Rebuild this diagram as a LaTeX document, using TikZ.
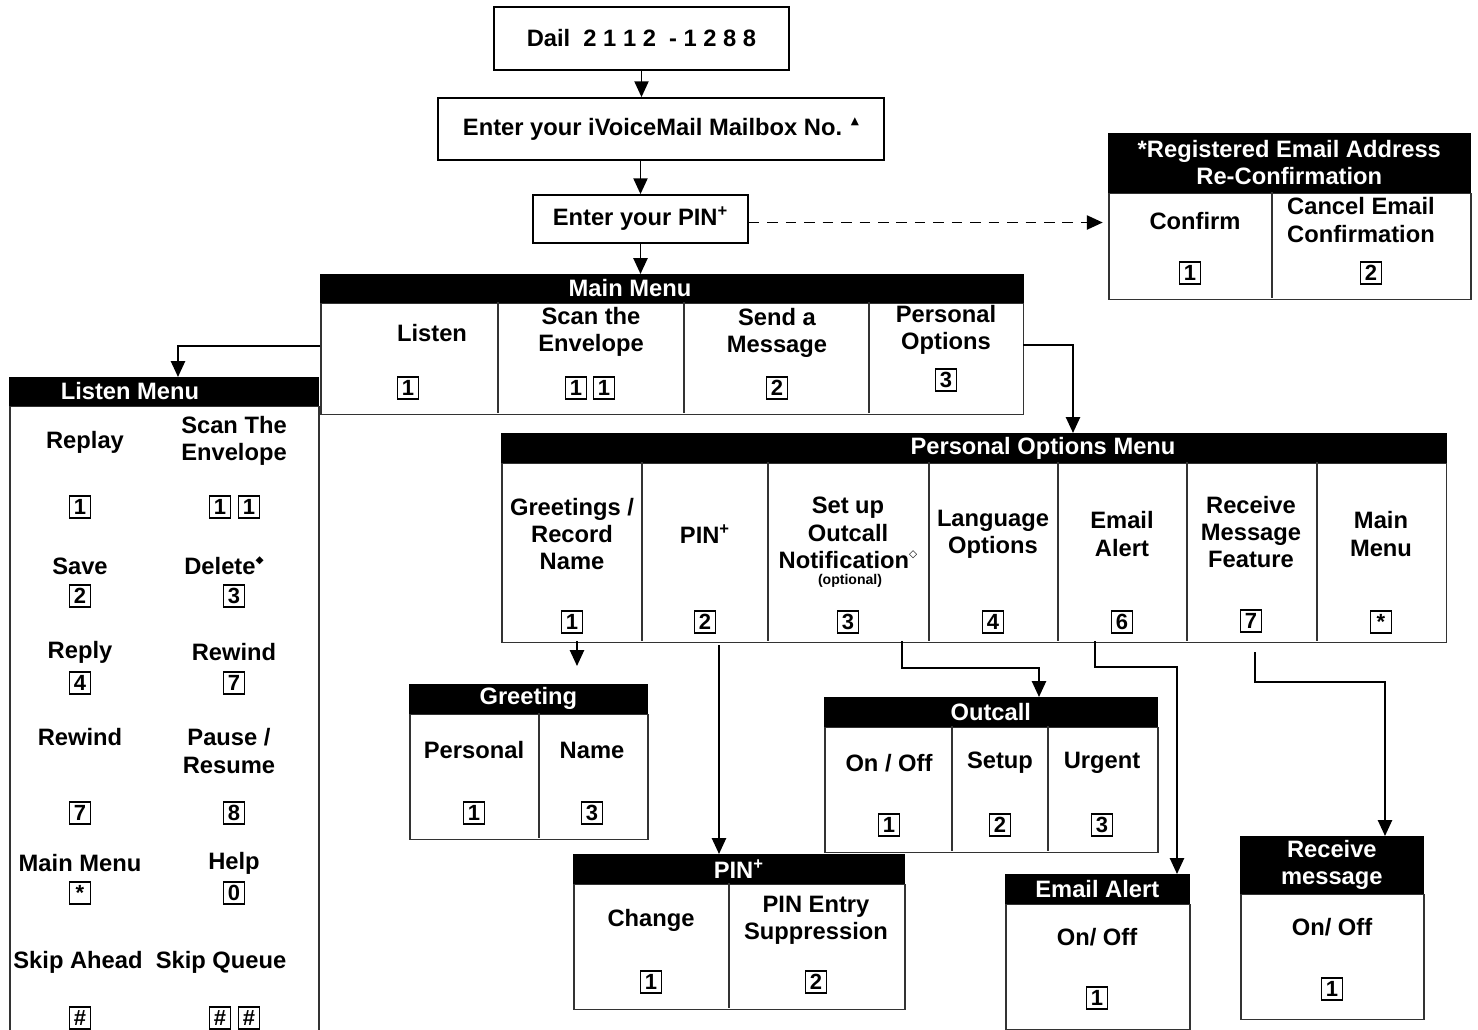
\documentclass[tikz,border=0pt]{standalone}
\usepackage{fontspec}
\setmainfont{Liberation Sans}
\newfontfamily\glyphfont{DejaVu Sans}
\usetikzlibrary{arrows.meta,positioning}

\newcommand{\itemfont}{\fontsize{13.5}{15.5}\selectfont\bfseries}
\newcommand{\keyfont}{\fontsize{12.5}{12.5}\selectfont\bfseries}
\newcommand{\fillmark}{\raisebox{0.9ex}{\glyphfont\fontsize{6}{6}\selectfont ◆}}
\newcommand{\openmark}{\raisebox{0.9ex}{\glyphfont\fontsize{6}{6}\selectfont ◇}}
\newcommand{\upmark}{\raisebox{0.9ex}{\glyphfont\fontsize{6}{6}\selectfont ▲}}

\tikzset{%
    stepbox/.style={%
        rectangle, draw=black, line width=1pt, font=\itemfont, inner sep=0pt
    },
    menuhead/.style={%
        rectangle, draw=black, fill=black, text=white, font=\itemfont, anchor=north west, inner sep=0pt, align=center
    },
    headtext/.style={%
        text=white, font=\itemfont, inner sep=0pt
    },
    menubody/.style={%
        rectangle, draw=black!80, line width=0.9pt, anchor=north west, inner sep=0pt
    },
    item/.style={%
        align=center, font=\itemfont, inner sep=0pt
    },
    keybox/.style={%
        rectangle, draw=black, line width=0.8pt, minimum width=0.42cm, minimum height=0.44cm, inner sep=0pt, font=\keyfont
    },
    divider/.style={%
        draw=black!80, line width=0.9pt
    },
    flow/.style={%
        -{Triangle[width=8pt,length=9pt]}, line width=1.1pt
    },
}

\begin{document}
\begin{tikzpicture}[x=0.02cm, y=-0.02cm]
  \useasboundingbox (0,0) rectangle (1478,1030);

  % log in steps
  \node[stepbox, minimum width=5.9cm, minimum height=1.26cm] (dial) at (641.5,38.5) {Dail\ \ 2 1 1 2\ \ - 1 2 8 8};
  \node[stepbox, minimum width=8.92cm, minimum height=1.24cm] (mailbox) at (661,129) {Enter your iVoiceMail Mailbox No. \upmark};
  \node[stepbox, minimum width=4.3cm, minimum height=0.96cm] (pin) at (640.5,219) {Enter your PIN\textsuperscript{+}};

  % main menu
  \node[menuhead, minimum width=14.06cm, minimum height=0.56cm] (mmhead) at (320,274) {};
  \node[headtext] (mmtitle) at (630,288) {Main Menu};
  \node[menubody, minimum width=14.06cm, minimum height=2.22cm] (mmbody) at (mmhead.south west) {};
  \foreach \x in {498,684,869}
    \draw[divider] (\x,302) -- (\x,413);
  \foreach \ix/\iy/\itxt [count=\i] in {432/333/{Listen}, 591/332/{Scan the\\Envelope}, 777/333/{Send a\\Message}, 946/330/{Personal\\Options}}
    \node[item] (mmitem\i) at (\ix,\iy) {\itxt};
  \foreach \kx/\ky/\kl [count=\i] in {408/388/1, 576/388/1, 604/388/1, 777/388/2, 946/380/3}
    \node[keybox] (mmkey\i) at (\kx,\ky) {\kl};

  % e-mail re-confirmation
  \node[menuhead, minimum width=7.24cm, minimum height=1.18cm] (rchead) at (1108,133) {*Registered Email Address\\Re-Confirmation};
  \node[menubody, minimum width=7.24cm, minimum height=2.12cm] (rcbody) at (rchead.south west) {};
  \draw[divider] (1272,192) -- (1272,298);
  \node[item] (rcitem1) at (1195,221) {Confirm};
  \node[item] (rcitem2) at (1361,220) {Cancel Email\\Confirmation};
  \node[keybox] (rckey1) at (1190,273) {1};
  \node[keybox] (rckey2) at (1371,273) {2};

  % listen menu
  \node[menuhead, minimum width=6.18cm, minimum height=0.56cm] (lmhead) at (9,377) {};
  \node[headtext] (lmtitle) at (130,391) {Listen Menu};
  \node[menubody, minimum width=6.18cm, minimum height=12.7cm] (lmbody) at (lmhead.south west) {};
  \foreach \ix/\iy/\itxt [count=\i] in {85/442/{Replay}, 234/441/{Scan The\\Envelope}, 80/566/{Save}, 224/566/{Delete\fillmark},
      80/652/{Reply}, 234/652/{Rewind}, 80/737/{Rewind}, 229/751/{Pause /\\Resume},
      80/863/{Main Menu}, 234/863/{Help}, 78/962/{Skip Ahead}, 221/962/{Skip Queue}}
    \node[item] (lmitem\i) at (\ix,\iy) {\itxt};
  \foreach \kx/\ky/\kl [count=\i] in {80/507/1, 220/507/1, 249/507/1, 80/596/2, 234/596/3, 80/683/4, 234/683/7,
      80/813/7, 234/813/8, 80/893/*, 234/893/0, 80/1018/\#, 220/1018/\#, 249/1018/\#}
    \node[keybox] (lmkey\i) at (\kx,\ky) {\kl};

  % personal options menu
  \node[menuhead, minimum width=18.9cm, minimum height=0.58cm] (pohead) at (501,433) {};
  \node[headtext] (potitle) at (1043,448) {Personal Options Menu};
  \node[menubody, minimum width=18.9cm, minimum height=3.58cm] (pobody) at (pohead.south west) {};
  \foreach \x in {642,768,929,1058,1187,1317}
    \draw[divider] (\x,462) -- (\x,641);
  \foreach \ix/\iy/\itxt [count=\i] in {572/534/{Greetings /\\Record\\Name}, 705/534/{PIN\textsuperscript{+}},
      848/533/{Set up\\Outcall\\Notification\openmark}, 993/534/{Language\\Options}, 1122/534/{Email\\Alert},
      1251/532/{Receive\\Message\\Feature}, 1381/534/{Main\\Menu}}
    \node[item] (poitem\i) at (\ix,\iy) {\itxt};
  \node[font=\fontsize{8}{9}\selectfont\bfseries, inner sep=0pt] (optional) at (850,581) {(optional)};
  \foreach \kx/\ky/\kl [count=\i] in {572/622/1, 705/622/2, 848/622/3, 993/622/4, 1122/622/6, 1251/621/7, 1381/622/*}
    \node[keybox] (pokey\i) at (\kx,\ky) {\kl};

  % greeting
  \node[menuhead, minimum width=4.76cm, minimum height=0.58cm] (grhead) at (409,684) {Greeting};
  \node[menubody, minimum width=4.76cm, minimum height=2.5cm] (grbody) at (grhead.south west) {};
  \draw[divider] (539,713) -- (539,838);
  \node[item] (gritem1) at (474,750) {Personal};
  \node[item] (gritem2) at (592,750) {Name};
  \node[keybox] (grkey1) at (474,813) {1};
  \node[keybox] (grkey2) at (592,813) {3};

  % pin
  \node[menuhead, minimum width=6.62cm, minimum height=0.58cm] (pnhead) at (573,854) {PIN\textsuperscript{+}};
  \node[menubody, minimum width=6.62cm, minimum height=2.5cm] (pnbody) at (pnhead.south west) {};
  \draw[divider] (729,883) -- (729,1008);
  \node[item] (pnitem1) at (651,920) {Change};
  \node[item] (pnitem2) at (816,920) {PIN Entry\\Suppression};
  \node[keybox] (pnkey1) at (651,982) {1};
  \node[keybox] (pnkey2) at (816,982) {2};

  % outcall
  \node[menuhead, minimum width=6.66cm, minimum height=0.58cm] (ochead) at (824,697) {Outcall};
  \node[menubody, minimum width=6.66cm, minimum height=2.5cm] (ocbody) at (ochead.south west) {};
  \foreach \x in {952,1048}
    \draw[divider] (\x,726) -- (\x,851);
  \foreach \ix/\itxt [count=\i] in {889/{On / Off}, 1000/{Setup}, 1102/{Urgent}}
    \node[item] (ocitem\i) at (\ix,763) {\itxt};
  \foreach \kx [count=\i] in {889,1000,1102}
    \node[keybox] (ockey\i) at (\kx,825) {\i};

  % email alert
  \node[menuhead, minimum width=3.68cm, minimum height=0.58cm] (eahead) at (1005,874) {Email Alert};
  \node[menubody, minimum width=3.68cm, minimum height=2.5cm] (eabody) at (eahead.south west) {};
  \node[item] (eaitem1) at (1097,937) {On/ Off};
  \node[keybox] (eakey1) at (1097,998) {1};

  % receive message
  \node[menuhead, minimum width=3.66cm, minimum height=1.14cm] (rmhead) at (1240,836) {Receive\\message};
  \node[menubody, minimum width=3.66cm, minimum height=2.5cm] (rmbody) at (rmhead.south west) {};
  \node[item] (rmitem1) at (1332,927) {On/ Off};
  \node[keybox] (rmkey1) at (1332,989) {1};

  % connectors
  \coordinate (mm-out) at (320,346);
  \coordinate (lm-in) at (178,377);
  \coordinate (po-out) at (1023,345);
  \coordinate (po-in) at (1073,433);
  \coordinate (gr-out) at (577,641);
  \coordinate (gr-in) at (577,666);
  \coordinate (pn-out) at (719,645);
  \coordinate (pn-in) at (719,854);
  \coordinate (oc-out) at (902,641);
  \coordinate (oc-in) at (1039,697);
  \coordinate (ea-out) at (1095,641);
  \coordinate (ea-in) at (1177,874);
  \coordinate (rm-out) at (1255,652);
  \coordinate (rm-in) at (1385,836);

  \draw[flow] (dial.south) -- (dial.south |- mailbox.north);
  \draw[flow] (pin.north |- mailbox.south) -- (pin.north);
  \draw[flow] (pin.south) -- (pin.south |- mmhead.north);
  \draw[flow, dash pattern=on 6pt off 4.5pt] ([yshift=-2pt]pin.east) -- ([xshift=-3pt,yshift=-2pt]pin.east -| rcbody.west);
  \draw[flow] (mm-out) -| (lm-in);
  \draw[flow] (po-out) -| (po-in);
  \draw[flow] (gr-out) -- (gr-in);
  \draw[flow] (pn-out) -- (pn-in);
  \draw[flow] (oc-out) -- ++(0,27) -| (oc-in);
  \draw[flow] (ea-out) -- ++(0,26) -| (ea-in);
  \draw[flow] (rm-out) -- ++(0,30) -| (rm-in);
\end{tikzpicture}
\end{document}
